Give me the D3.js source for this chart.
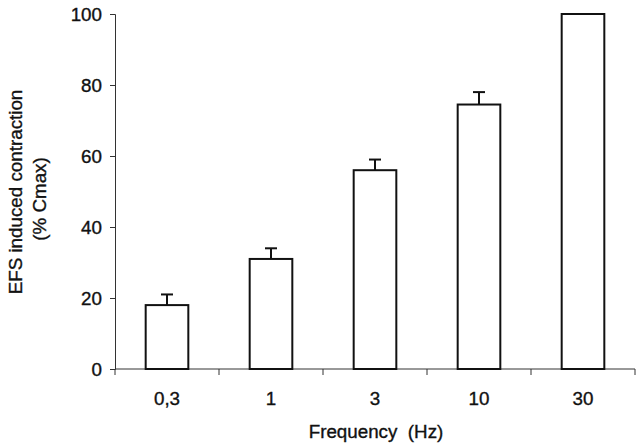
<!DOCTYPE html>
<html>
<head>
<meta charset="utf-8">
<script src="https://cdn.jsdelivr.net/npm/d3@7"></script>
<style>
  body { margin: 0; background: #fff; }
  text { font-family: "Liberation Sans", Arial, sans-serif; fill: #111; stroke: #111; stroke-width: 0.35px; }
</style>
</head>
<body>
<script>
const categories = ['0,3', '1', '3', '10', '30'];
const values = [18, 31, 56, 74.5, 100];
const errors = [3, 3, 3, 3.5, 0];
const yTicks = [0, 20, 40, 60, 80, 100];

const width = 640;
const height = 448;
const margin = { top: 14, right: 5, bottom: 79, left: 115 };

const svg = d3.select('body')
    .append('svg')
    .attr('width', width)
    .attr('height', height);

const x = d3.scaleBand()
    .domain(categories)
    .range([margin.left, width - margin.right])
    .padding(0);

const y = d3.scaleLinear()
    .domain([0, 100])
    .range([height - margin.bottom, margin.top]);

const barW = x.bandwidth() * 0.41;

// y axis
const yAxis = svg.append('g')
    .attr('transform', `translate(${margin.left},0)`)
    .call(d3.axisLeft(y).tickValues(yTicks).tickSize(5).tickPadding(8));
yAxis.select('.domain').attr('stroke', '#333');
yAxis.selectAll('.tick line').attr('stroke', '#333');
yAxis.selectAll('.tick text')
    .attr('font-size', '18.8px')
    .attr('fill', '#111')
    .attr('font-family', '"Liberation Sans", Arial, sans-serif');

// x axis: ticks sit between categories
const xAxis = svg.append('g')
    .attr('transform', `translate(0,${y(0)})`);
xAxis.append('line')
    .attr('x1', x.range()[0]).attr('x2', x.range()[1])
    .attr('stroke', '#333');
const bounds = [x.range()[0]].concat(categories.map(c => x(c) + x.bandwidth()));
xAxis.selectAll('line.tick')
    .data(bounds)
    .enter()
    .append('line')
    .attr('class', 'tick')
    .attr('x1', d => d).attr('x2', d => d)
    .attr('y1', 0).attr('y2', 6)
    .attr('stroke', '#333');
xAxis.selectAll('text')
    .data(categories)
    .enter()
    .append('text')
    .attr('x', d => x(d) + x.bandwidth() / 2)
    .attr('y', 36)
    .attr('text-anchor', 'middle')
    .attr('font-size', '18.8px')
    .text(d => d);

// error bars
const eb = svg.selectAll('g.err')
    .data(categories.map((c, i) => ({ c, v: values[i], e: errors[i] })).filter(d => d.e > 0))
    .enter()
    .append('g')
    .attr('class', 'err');
eb.append('line')
    .attr('x1', d => x(d.c) + x.bandwidth() / 2)
    .attr('x2', d => x(d.c) + x.bandwidth() / 2)
    .attr('y1', d => y(d.v))
    .attr('y2', d => y(d.v + d.e))
    .attr('stroke', '#111')
    .attr('stroke-width', 2);
eb.append('line')
    .attr('x1', d => x(d.c) + x.bandwidth() / 2 - 6)
    .attr('x2', d => x(d.c) + x.bandwidth() / 2 + 6)
    .attr('y1', d => y(d.v + d.e))
    .attr('y2', d => y(d.v + d.e))
    .attr('stroke', '#111')
    .attr('stroke-width', 2);

// bars
svg.selectAll('rect.bar')
    .data(categories.map((c, i) => ({ c, v: values[i] })))
    .enter()
    .append('rect')
    .attr('class', 'bar')
    .attr('x', d => x(d.c) + (x.bandwidth() - barW) / 2)
    .attr('y', d => y(d.v))
    .attr('width', barW)
    .attr('height', d => y(0) - y(d.v))
    .attr('fill', '#fff')
    .attr('stroke', '#111')
    .attr('stroke-width', 2);

// axis titles
svg.append('text')
    .attr('x', 376)
    .attr('y', 438)
    .attr('text-anchor', 'middle')
    .attr('font-size', '18.8px')
    .attr('xml:space', 'preserve')
    .text('Frequency  (Hz)');

const yt = svg.append('text')
    .attr('transform', 'translate(22,192) rotate(-90)')
    .attr('text-anchor', 'middle')
    .attr('font-size', '18.8px');
yt.append('tspan').attr('x', 0).attr('y', 0).text('EFS induced contraction');
yt.append('tspan').attr('x', -7).attr('y', 24).text('(% Cmax)');
</script>
</body>
</html>
